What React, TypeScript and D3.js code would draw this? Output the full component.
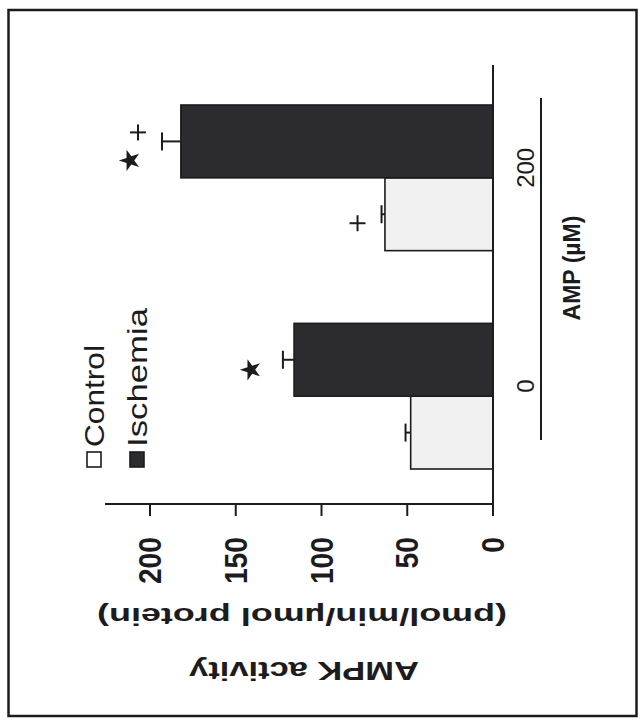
import React from "react";
import * as d3 from "d3";

// AMPK activity by AMP concentration, drawn turned a quarter-turn counter-clockwise
const categories = ["0", "200"];
const seriesNames = ["Control", "Ischemia"];
const controlValues = [48, 63];
const ischemiaValues = [116, 182];
const controlErrors = [3, 2];
const ischemiaErrors = [6.5, 11];
const valueTicks = [0, 50, 100, 150, 200];
// significance marks: category, series, glyph
const marks = [
  { cat: "0", series: "Ischemia", sym: "star" },
  { cat: "200", series: "Control", sym: "plus" },
  { cat: "200", series: "Ischemia", sym: "star" },
  { cat: "200", series: "Ischemia", sym: "plus" },
];

const W = 641;
const H = 722;
const FONT = "'Liberation Sans', Arial, sans-serif";
const INK = "#1c1c1e";

export default function App() {
  // value axis runs right-to-left along the bottom
  const x = d3.scaleLinear().domain([0, 200]).range([493, 150]);
  // categories stacked bottom-to-top
  const yGroup = d3
    .scaleBand<string>()
    .domain([...categories].reverse())
    .range([105, 469])
    .paddingInner(0.333);
  const ySeries = d3
    .scaleBand<string>()
    .domain([...seriesNames].reverse())
    .range([0, yGroup.bandwidth()]);

  const rows = categories.flatMap((c, i) => [
    { cat: c, series: "Control", v: controlValues[i], e: controlErrors[i] },
    { cat: c, series: "Ischemia", v: ischemiaValues[i], e: ischemiaErrors[i] },
  ]);
  const barY = (cat: string, s: string) => (yGroup(cat) ?? 0) + (ySeries(s) ?? 0);
  const bh = ySeries.bandwidth();

  const axisY = 504;
  const star = d3.symbol().type(d3.symbolStar).size(140)();

  return (
    <svg
      width={W}
      height={H}
      style={{ position: "absolute", left: 0, top: 0, background: "#fff" }}
    >
      <rect x={0} y={0} width={W} height={H} fill="#fff" />
      {/* outer frame */}
      <rect
        x={8.5}
        y={10}
        width={628}
        height={706}
        fill="none"
        stroke={INK}
        strokeWidth={2.5}
      />

      {/* bars */}
      {rows.map((r) => {
        const y0 = barY(r.cat, r.series);
        const isC = r.series === "Control";
        return (
          <rect
            key={r.cat + r.series}
            x={x(r.v)}
            y={y0}
            width={x(0) - x(r.v)}
            height={bh}
            fill={isC ? "#f1f1f1" : "#2c2b30"}
            stroke={INK}
            strokeWidth={1.6}
          />
        );
      })}

      {/* error bars */}
      {rows.map((r) => {
        const yc = barY(r.cat, r.series) + bh / 2;
        const x1 = x(r.v);
        const x2 = x(r.v + r.e);
        return (
          <g key={"e" + r.cat + r.series} stroke={INK} strokeWidth={2}>
            <line x1={x1} x2={x2} y1={yc} y2={yc} />
            <line x1={x2} x2={x2} y1={yc - 9} y2={yc + 9} />
          </g>
        );
      })}

      {/* significance marks */}
      {marks.map((m, i) => {
        const r = rows.find((d) => d.cat === m.cat && d.series === m.series)!;
        const yc = barY(r.cat, r.series) + bh / 2;
        const xe = x(r.v + r.e);
        const both = marks.filter((d) => d.cat === m.cat && d.series === m.series).length > 1;
        const dy = both ? (m.sym === "star" ? 19 : -9) : m.sym === "star" ? 10 : 9;
        const dx = m.sym === "star" ? -32 : -24;
        const cx = xe + dx;
        const cy = yc + dy;
        return m.sym === "star" ? (
          <path
            key={"m" + i}
            d={star ?? ""}
            transform={`translate(${cx},${cy}) rotate(-90)`}
            fill={INK}
          />
        ) : (
          <g key={"m" + i} stroke={INK} strokeWidth={2}>
            <line x1={cx - 8} x2={cx + 8} y1={cy} y2={cy} />
            <line x1={cx} x2={cx} y1={cy - 8} y2={cy + 8} />
          </g>
        );
      })}

      {/* category baseline */}
      <line x1={x(0)} x2={x(0)} y1={65} y2={axisY} stroke={INK} strokeWidth={2} />

      {/* value axis */}
      <line x1={105} x2={x(0) + 1} y1={axisY} y2={axisY} stroke={INK} strokeWidth={2} />
      {valueTicks.map((t) => (
        <g key={"t" + t}>
          <line x1={x(t)} x2={x(t)} y1={axisY} y2={axisY + 12} stroke={INK} strokeWidth={2} />
          <text
            transform={`translate(${x(t)},537) rotate(-90)`}
            textAnchor="end"
            dy="0.36em"
            fontFamily={FONT}
            fontWeight="bold"
            fontSize={31}
            fill={INK}
            textLength={String(t).length * 15.7}
            lengthAdjust="spacingAndGlyphs"
          >
            {t}
          </text>
        </g>
      ))}

      {/* category labels */}
      {categories.map((c) => (
        <text
          key={"c" + c}
          transform={`translate(525,${(yGroup(c) ?? 0) + yGroup.bandwidth() / 2 - 10}) rotate(-90)`}
          textAnchor="middle"
          dy="0.36em"
          fontFamily={FONT}
          fontSize={24}
          fill={INK}
        >
          {c}
        </text>
      ))}
      <line x1={541} x2={541} y1={98} y2={440} stroke={INK} strokeWidth={2} />
      <text
        transform="translate(572,268) rotate(-90)"
        textAnchor="middle"
        dy="0.36em"
        fontFamily={FONT}
        fontWeight="bold"
        fontSize={23}
        fill={INK}
      >
        AMP (µM)
      </text>

      {/* value axis title, upside down */}
      <text
        transform="translate(302,617) rotate(180)"
        textAnchor="middle"
        dy="0.36em"
        fontFamily={FONT}
        fontWeight="bold"
        fontSize={24}
        fill={INK}
        textLength={410}
        lengthAdjust="spacingAndGlyphs"
      >
        (pmol/min/µmol protein)
      </text>
      <text
        transform="translate(304,671) rotate(180)"
        textAnchor="middle"
        dy="0.36em"
        fontFamily={FONT}
        fontWeight="bold"
        fontSize={25}
        fill={INK}
        textLength={230}
        lengthAdjust="spacingAndGlyphs"
      >
        AMPK activity
      </text>

      {/* legend */}
      {seriesNames.map((s, i) => {
        const cx = i === 0 ? 94 : 137;
        return (
          <g key={"l" + s}>
            <rect
              x={cx - 7}
              y={452}
              width={14}
              height={15}
              fill={i === 0 ? "#fff" : "#2c2b30"}
              stroke={INK}
              strokeWidth={1.6}
            />
            <text
              transform={`translate(${cx},447) rotate(-90)`}
              textAnchor="start"
              dy="0.36em"
              fontFamily={FONT}
              fontSize={28}
              fill={INK}
              textLength={i === 0 ? 102 : 139}
              lengthAdjust="spacingAndGlyphs"
            >
              {s}
            </text>
          </g>
        );
      })}
    </svg>
  );
}
